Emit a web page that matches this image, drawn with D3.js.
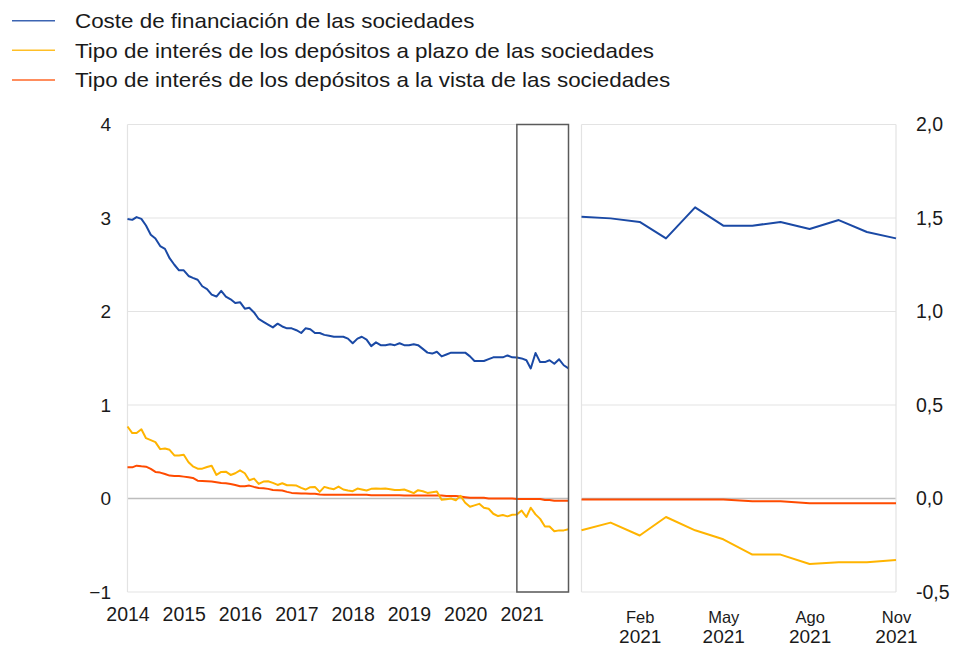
<!DOCTYPE html>
<html><head><meta charset="utf-8">
<script src="https://cdn.jsdelivr.net/npm/d3@7"></script>
<style>
body{margin:0;background:#fff;}
text{font-family:"Liberation Sans",Arial,sans-serif;fill:#1a1a1a;}
</style></head>
<body><svg id="c" width="959" height="646"></svg>
<script>
// ---- data ----
const seriesNames = [
  "Coste de financiación de las sociedades",
  "Tipo de interés de los depósitos a plazo de las sociedades",
  "Tipo de interés de los depósitos a la vista de las sociedades"
];
const seriesColors = ["#1a49a5", "#ffb400", "#ff4b00"];
const startMonth = "2014-01"; // monthly, Jan 2014 – Nov 2021
const coste = [2.99,2.98,3.01,2.99,2.92,2.82,2.78,2.70,2.67,2.57,2.50,2.44,
  2.44,2.38,2.36,2.34,2.27,2.24,2.18,2.16,2.22,2.16,2.13,2.09,
  2.10,2.03,2.04,1.99,1.92,1.89,1.86,1.83,1.87,1.84,1.82,1.82,
  1.80,1.77,1.82,1.81,1.77,1.77,1.75,1.74,1.73,1.73,1.73,1.71,
  1.66,1.71,1.73,1.70,1.63,1.67,1.64,1.64,1.65,1.64,1.66,1.64,
  1.64,1.65,1.64,1.60,1.56,1.55,1.57,1.52,1.54,1.56,1.56,1.56,
  1.56,1.52,1.47,1.47,1.47,1.49,1.51,1.51,1.51,1.53,1.51,1.507,
  1.498,1.479,1.391,1.557,1.459,1.459,1.479,1.441,1.489,1.425,1.391];
const plazo = [0.77,0.70,0.70,0.74,0.645,0.624,0.603,0.528,0.535,0.521,0.461,0.461,
  0.468,0.387,0.344,0.319,0.319,0.337,0.351,0.252,0.284,0.287,0.252,0.270,
  0.301,0.270,0.195,0.213,0.156,0.181,0.184,0.167,0.145,0.163,0.142,0.142,
  0.138,0.113,0.096,0.121,0.124,0.071,0.124,0.110,0.100,0.128,0.096,0.085,
  0.078,0.106,0.096,0.085,0.103,0.106,0.103,0.106,0.099,0.092,0.092,0.096,
  0.078,0.057,0.089,0.078,0.060,0.067,0.074,-0.014,-0.007,0.000,-0.018,0.028,
  -0.046,-0.089,-0.074,-0.057,-0.099,-0.110,-0.163,-0.188,-0.177,-0.191,-0.174,-0.170,
  -0.129,-0.198,-0.099,-0.170,-0.218,-0.300,-0.300,-0.350,-0.341,-0.341,-0.329];
const vista = [0.333,0.333,0.351,0.344,0.340,0.316,0.284,0.277,0.262,0.245,0.241,0.241,
  0.234,0.227,0.220,0.191,0.188,0.184,0.181,0.174,0.167,0.163,0.156,0.145,
  0.131,0.131,0.138,0.124,0.113,0.110,0.103,0.092,0.089,0.085,0.071,0.060,
  0.057,0.053,0.053,0.050,0.050,0.043,0.039,0.039,0.039,0.039,0.040,0.040,
  0.040,0.040,0.040,0.040,0.035,0.035,0.035,0.035,0.035,0.035,0.035,0.032,
  0.032,0.032,0.032,0.032,0.032,0.032,0.032,0.032,0.028,0.028,0.028,0.021,
  0.014,0.007,0.007,0.007,0.007,0.000,0.000,0.000,0.000,0.000,0.000,-0.005,
  -0.005,-0.005,-0.005,-0.005,-0.005,-0.015,-0.015,-0.025,-0.025,-0.025,-0.025];
const zoomStart = 83; // Dec 2020 index
const leftTicks = [-1,0,1,2,3,4];
const leftTickLabels = ["\u22121","0","1","2","3","4"];
const rightTicks = [-0.5,0,0.5,1,1.5,2];
const rightTickLabels = ["-0,5","0,0","0,5","1,0","1,5","2,0"];
const yearTicks = [2014,2015,2016,2017,2018,2019,2020,2021];
const zoomMonthTicks = ["2021-02","2021-05","2021-08","2021-11"];
const zoomMonthLabels = ["Feb","May","Ago","Nov"];

// ---- layout ----
const svg = d3.select("#c");
const plotTop = 124.5, plotBottom = 592;
const parse = d3.timeParse("%Y-%m");
const d0 = parse(startMonth);
const dates = coste.map((_, i) => d3.timeMonth.offset(d0, i));
const xL = d3.scaleTime().domain([dates[0], dates[dates.length-1]]).range([127.5, 568.5]);
const xR = d3.scaleTime().domain([dates[zoomStart], dates[dates.length-1]]).range([581.5, 896]);
const yL = d3.scaleLinear().domain([-1, 4]).range([plotBottom, plotTop]);
const yR = d3.scaleLinear().domain([-0.5, 2]).range([plotBottom, plotTop]);

// gridlines
const grid = svg.append("g");
leftTicks.forEach(t => {
  grid.append("line").attr("x1", xL.range()[0]).attr("x2", xL.range()[1])
    .attr("y1", yL(t)).attr("y2", yL(t))
    .attr("stroke", t === 0 ? "#bdbdbd" : "#e3e3e3").attr("stroke-width", t===0?1.5:1.2);
});
rightTicks.forEach(t => {
  grid.append("line").attr("x1", xR.range()[0]).attr("x2", xR.range()[1])
    .attr("y1", yR(t)).attr("y2", yR(t))
    .attr("stroke", t === 0 ? "#bdbdbd" : "#e3e3e3").attr("stroke-width", t===0?1.5:1.2);
});
[xL.range()[0], xR.range()[0], xR.range()[1]].forEach(x => {
  grid.append("line").attr("x1", x).attr("x2", x).attr("y1", plotTop).attr("y2", plotBottom)
    .attr("stroke", "#e3e3e3").attr("stroke-width", 1.2);
});

// series
const all = [coste, plazo, vista];
const drawOrder = [2, 1, 0];
drawOrder.forEach(k => {
  const vals = all[k];
  svg.append("path").datum(vals.map((v, i) => [dates[i], v]))
    .attr("fill", "none").attr("stroke", seriesColors[k]).attr("stroke-width", 2)
    .attr("stroke-linejoin", "round")
    .attr("d", d3.line().x(d => xL(d[0])).y(d => yL(d[1])));
  svg.append("path").datum(vals.slice(zoomStart).map((v, i) => [dates[zoomStart + i], v]))
    .attr("fill", "none").attr("stroke", seriesColors[k]).attr("stroke-width", 2)
    .attr("stroke-linejoin", "round")
    .attr("d", d3.line().x(d => xR(d[0])).y(d => yR(d[1])));
});

// highlight box
svg.append("rect").attr("x", xL(dates[zoomStart])).attr("y", plotTop)
  .attr("width", xL(dates[dates.length-1]) - xL(dates[zoomStart])).attr("height", plotBottom - plotTop)
  .attr("fill", "none").attr("stroke", "#5a5a5a").attr("stroke-width", 1.5);

// axes
const ff = '"Liberation Sans",Arial,sans-serif';
const axL = svg.append("g").attr("transform", "translate(111,0)")
  .call(d3.axisLeft(yL).tickValues(leftTicks).tickSize(0).tickPadding(0)
    .tickFormat((d, i) => leftTickLabels[i]));
const axR = svg.append("g").attr("transform", "translate(916,0)")
  .call(d3.axisRight(yR).tickValues(rightTicks).tickSize(0).tickPadding(0)
    .tickFormat((d, i) => rightTickLabels[i]));
const axB = svg.append("g").attr("transform", "translate(0,607)")
  .call(d3.axisBottom(xL).tickValues(yearTicks.map(y => new Date(y, 0, 1))).tickSize(0).tickPadding(0)
    .tickFormat(d3.timeFormat("%Y")));
const axB2 = svg.append("g").attr("transform", "translate(0,611)")
  .call(d3.axisBottom(xR).tickValues(zoomMonthTicks.map(parse)).tickSize(0).tickPadding(0)
    .tickFormat((d, i) => zoomMonthLabels[i]));
const axB3 = svg.append("g").attr("transform", "translate(0,629.5)")
  .call(d3.axisBottom(xR).tickValues(zoomMonthTicks.map(parse)).tickSize(0).tickPadding(0)
    .tickFormat(d3.timeFormat("%Y")));
[axL, axR, axB, axB2, axB3].forEach(a => {
  a.select(".domain").remove();
  a.selectAll("text").style("font-size", "19px").style("font-family", ff).attr("fill", "#1a1a1a");
});
axB.selectAll("text").style("font-size", "19.5px");
axR.selectAll("text").style("font-size", "19.5px");
axB2.selectAll("text").style("font-size", "16.5px");
axB3.selectAll("text").style("font-size", "19px");

// legend
const lg = svg.append("g");
seriesNames.forEach((n, i) => {
  const y = 20.7 + i * 29.6;
  lg.append("line").attr("x1", 12).attr("x2", 55).attr("y1", y).attr("y2", y)
    .attr("stroke", seriesColors[i]).attr("stroke-width", 1.5).attr("stroke-opacity", 0.85);
  lg.append("text").attr("transform", `translate(75,${y + 7.4}) scale(1.12,1)`)
    .text(n).style("font-size", "20px");
});
</script></body></html>
